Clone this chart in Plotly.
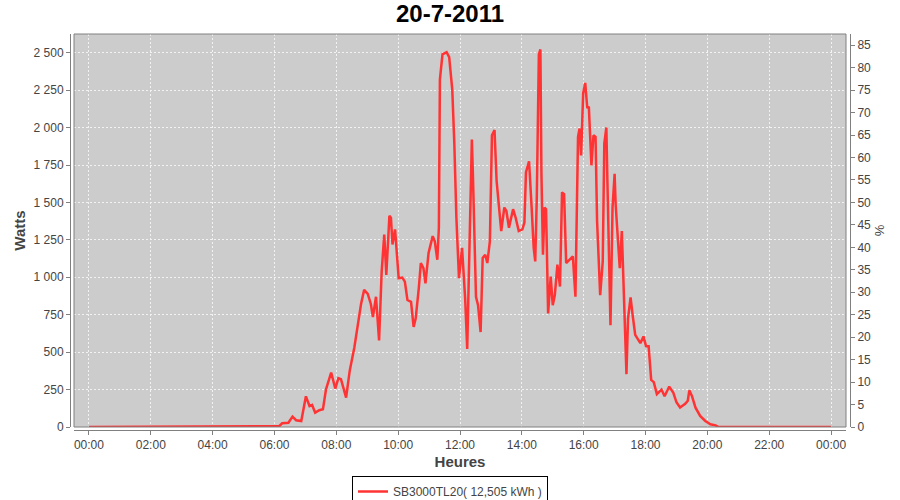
import datetime as dt
import plotly.graph_objects as go

# ---- data ----
times = [
    "00:00", "06:00", "06:09", "06:15", "06:27", "06:35", "06:42", "06:52", "07:01", "07:08",
    "07:13", "07:19", "07:27", "07:34", "07:40", "07:50", "07:58", "08:04", "08:09", "08:19",
    "08:26", "08:35", "08:41", "08:48", "08:54", "09:01", "09:07", "09:11", "09:17", "09:23",
    "09:28", "09:33", "09:37", "09:43", "09:46", "09:49", "09:54", "10:01", "10:08", "10:13",
    "10:18", "10:25", "10:30", "10:34", "10:40", "10:44", "10:49", "10:53", "10:59", "11:07",
    "11:11", "11:16", "11:19", "11:21", "11:26", "11:34", "11:39", "11:45", "11:49", "11:53",
    "11:58", "12:04", "12:10", "12:14", "12:19", "12:23", "12:25", "12:31", "12:35", "12:40",
    "12:44", "12:49", "12:53", "12:58", "13:02", "13:07", "13:11", "13:16", "13:20", "13:26",
    "13:30", "13:35", "13:43", "13:48", "13:54", "14:01", "14:05", "14:08", "14:14", "14:19",
    "14:23", "14:26", "14:29", "14:33", "14:36", "14:38", "14:41", "14:44", "14:47", "14:51",
    "14:56", "15:00", "15:04", "15:09", "15:14", "15:18", "15:22", "15:26", "15:32", "15:39",
    "15:44", "15:49", "15:52", "15:55", "15:59", "16:03", "16:07", "16:10", "16:15", "16:19",
    "16:23", "16:26", "16:32", "16:37", "16:40", "16:44", "16:46", "16:52", "16:56", "17:00",
    "17:02", "17:07", "17:10", "17:14", "17:17", "17:21", "17:23", "17:26", "17:31", "17:35",
    "17:40", "17:50", "17:56", "18:01", "18:06", "18:11", "18:16", "18:22", "18:31", "18:37",
    "18:46", "18:54", "19:00", "19:07", "19:17", "19:22", "19:25", "19:30", "19:37", "19:46",
    "19:56", "20:06", "20:16", "20:22", "24:00",
]
watts = [
    0, 0, 5, 25, 28, 69, 45, 40, 205, 140,
    147, 96, 112, 118, 252, 364, 257, 326, 319, 196,
    375, 531, 665, 822, 916, 889, 822, 735, 870, 578,
    1039, 1286, 1016, 1410, 1398, 1219, 1320, 994, 998, 971,
    848, 836, 668, 724, 926, 1095, 1061, 960, 1162, 1275,
    1241, 1117, 1331, 2320, 2489, 2504, 2470, 2253, 1893, 1398,
    994, 1196, 859, 522, 1297, 1920, 1691, 870, 814, 634,
    1129, 1151, 1095, 1241, 1949, 1983, 1646, 1443, 1309, 1466,
    1443, 1331, 1455, 1398, 1309, 1320, 1365, 1702, 1775, 1466,
    1196, 1106, 1533, 2489, 2522, 1691, 1151, 1466, 1455, 758,
    1005, 814, 881, 1084, 938, 1567, 1556, 1095, 1117, 1140,
    870, 1938, 1994, 1814, 2230, 2298, 2129, 2140, 1747, 1949,
    1938, 1376, 881, 1106, 1893, 2001, 1646, 679, 1466, 1691,
    1488, 1196, 1061, 1309, 1016, 567, 353, 724, 866, 747,
    615, 560, 605, 540, 540, 315, 300, 220, 250, 205,
    270, 228, 165, 130, 155, 175, 245, 208, 129, 74,
    40, 18, 11, 0, 0,
]
series_name = "SB3000TL20( 12,505 kWh )"
chart_title = "20-7-2011"
day = dt.datetime(2011, 7, 20)

def to_dt(s):
    h, m = s.split(":")
    return day + dt.timedelta(hours=int(h), minutes=int(m))

xs = [to_dt(t) for t in times]

FONT = "Liberation Sans, Arial, sans-serif"
GREY = "#808080"
TXT = "#444444"
GRID = dict(showgrid=True, gridcolor="#F2F2F2", griddash="2px,2px", gridwidth=1)

fig = go.Figure()
fig.add_trace(go.Scatter(
    x=xs, y=watts, mode="lines", name=series_name,
    line=dict(color="#FF3333", width=2.5),
))
# helper trace so the percentage axis is drawn
fig.add_trace(go.Scatter(
    x=[xs[0]], y=[0], yaxis="y2", mode="lines", showlegend=False,
    hoverinfo="skip", opacity=0,
))

fig.update_layout(
    width=900, height=500,
    margin=dict(l=70, r=50, t=34, b=70, autoexpand=False),
    paper_bgcolor="white",
    plot_bgcolor="#CCCCCC",
    separators=", ",
    font=dict(family=FONT, size=12, color=TXT),
    title=dict(text="<b>" + chart_title + "</b>", x=0.5, xanchor="center",
               y=0.972, yanchor="middle",
               font=dict(family=FONT, size=24, color="black")),
    xaxis=dict(
        domain=[4 / 780, 776 / 780],
        anchor="free", position=0,
        type="date",
        range=[day - dt.timedelta(minutes=29), day + dt.timedelta(hours=24, minutes=29)],
        tick0=day, dtick=2 * 3600 * 1000, tickformat="%H:%M",
        showline=True, linecolor=GREY, linewidth=1,
        ticks="outside", ticklen=4, tickcolor=GREY,
        zeroline=False, automargin=False,
        tickfont=dict(family=FONT, size=12, color=TXT),
        title=dict(text="<b>Heures</b>", standoff=5,
                   font=dict(family=FONT, size=15, color=TXT)),
        **GRID,
    ),
    yaxis=dict(
        domain=[3 / 396, 1],
        anchor="free", position=0,
        range=[0, 2625], tick0=0, dtick=250,
        tickformat=",d",
        showline=True, linecolor=GREY, linewidth=1,
        ticks="outside", ticklen=4, tickcolor=GREY,
        zeroline=False, automargin=False,
        tickfont=dict(family=FONT, size=12, color=TXT),
        title=dict(text="<b>Watts</b>", standoff=3,
                   font=dict(family=FONT, size=15, color=TXT)),
        **GRID,
    ),
    yaxis2=dict(
        overlaying="y", side="right",
        anchor="free", position=1,
        range=[0, 87.5], tick0=0, dtick=5,
        showline=True, linecolor=GREY, linewidth=1,
        ticks="outside", ticklen=4, tickcolor=GREY,
        showgrid=False, zeroline=False, automargin=False,
        tickfont=dict(family=FONT, size=12, color=TXT),
        title=dict(text="%", standoff=4,
                   font=dict(family=FONT, size=13, color=TXT)),
    ),
    legend=dict(
        orientation="h", xref="container", x=0.5, xanchor="center",
        yref="container", y=(500 - 476) / 500, yanchor="top",
        bordercolor="black", borderwidth=1, bgcolor="white",
        font=dict(family=FONT, size=12, color=TXT),
        itemwidth=30,
    ),
    showlegend=True,
)

# plot outline
fig.add_shape(type="rect", xref="x domain", yref="y domain",
              x0=0, x1=1, y0=0, y1=1,
              line=dict(color=GREY, width=1), fillcolor="rgba(0,0,0,0)", layer="above")

fig.write_html("out.html",
               config={"displayModeBar": False},
               post_script="document.body.style.margin='0';document.body.style.padding='0';")
